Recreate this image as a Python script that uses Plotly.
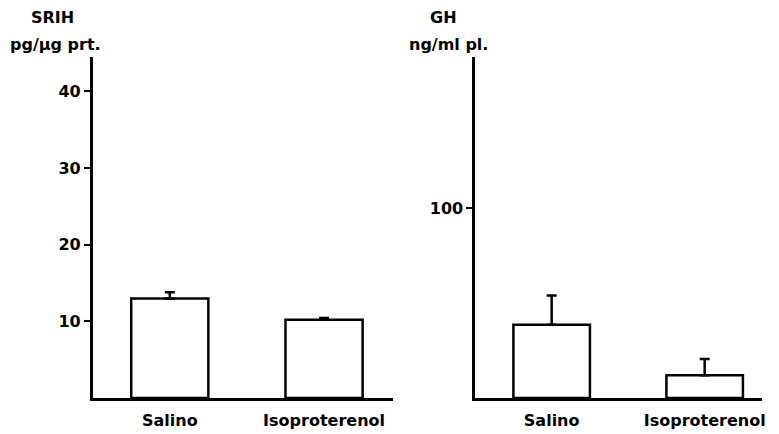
import plotly.graph_objects as go

categories = ["Salino", "Isoproterenol"]
srih_values = [13.0, 10.2]
srih_err = [0.8, 0.25]
gh_values = [38.5, 12.0]
gh_err = [15.5, 8.5]
srih_ticks = [10, 20, 30, 40]
gh_ticks = [100]

FONT = "DejaVu Sans"
LW = 2.5

fig = go.Figure()
fig.add_trace(go.Bar(
    x=[0, 1], y=srih_values, width=0.5,
    marker=dict(color="white", line=dict(color="black", width=LW)),
    error_y=dict(type="data", symmetric=False, array=srih_err, arrayminus=[0, 0],
                 color="black", thickness=LW, width=5),
    xaxis="x", yaxis="y", showlegend=False,
))
fig.add_trace(go.Bar(
    x=[0, 1], y=gh_values, width=0.5,
    marker=dict(color="white", line=dict(color="black", width=LW)),
    error_y=dict(type="data", symmetric=False, array=gh_err, arrayminus=[0, 0],
                 color="black", thickness=LW, width=5),
    xaxis="x2", yaxis="y2", showlegend=False,
))

W, H = 779, 434
ydom = [(H - 398) / H, (H - 57) / H]
tickfont = dict(family=FONT, size=16, color="black", weight="bold")

common_x = dict(showgrid=False, zeroline=False, showline=True, linecolor="black",
                linewidth=LW, ticks="", tickvals=[0, 1], ticktext=categories,
                tickfont=tickfont, ticklabelstandoff=6)
common_y = dict(showgrid=False, zeroline=False, showline=True, linecolor="black",
                linewidth=LW, ticks="outside", ticklen=6, tickwidth=2,
                tickcolor="black", tickfont=tickfont, ticklabelstandoff=0)

ann_font = dict(family=FONT, size=16, color="black", weight="bold")
labels = [("SRIH", 53, 17), ("pg/µg prt.", 56, 44), ("GH", 445, 17), ("ng/ml pl.", 450, 44)]

fig.update_layout(
    width=W, height=H,
    margin=dict(l=0, r=0, t=0, b=0),
    paper_bgcolor="white", plot_bgcolor="white",
    xaxis=dict(domain=[93 / W, 395 / W], range=[-0.5, 1.45], anchor="y", **common_x),
    yaxis=dict(domain=ydom, range=[0, 44.5], tickvals=srih_ticks, anchor="x", **common_y),
    xaxis2=dict(domain=[477 / W, 765 / W], range=[-0.5, 1.375], anchor="y2", **common_x),
    yaxis2=dict(domain=ydom, range=[0, 179.5], tickvals=gh_ticks, anchor="x2", **common_y),
    annotations=[
        dict(text=t, x=px / W, y=(H - py) / H, xref="paper", yref="paper",
             xanchor="center", yanchor="middle", showarrow=False, font=ann_font)
        for t, px, py in labels
    ],
)

fig.write_html("out.html")
